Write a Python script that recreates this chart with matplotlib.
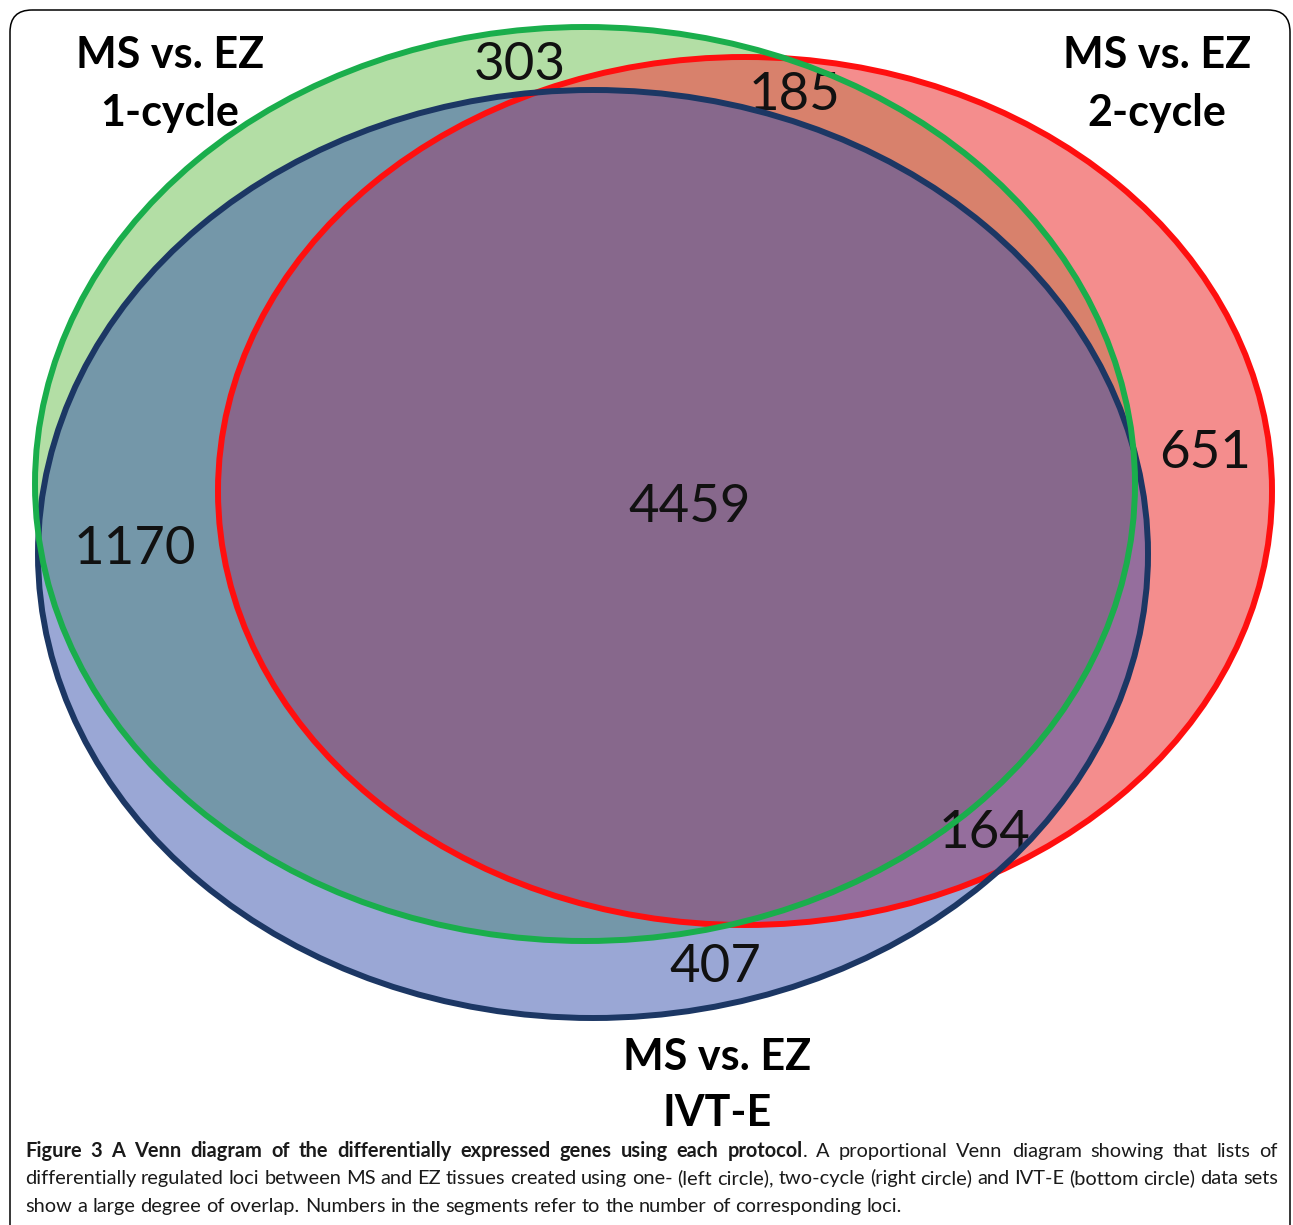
import matplotlib
matplotlib.use('Agg')
import matplotlib.pyplot as plt
from matplotlib.patches import Ellipse, FancyBboxPatch

# set labels and region counts
set_names = ['MS vs. EZ\n1-cycle', 'MS vs. EZ\n2-cycle', 'MS vs. EZ\nIVT-E']
region_names = ['1-cycle only', '1+2 only', '2-cycle only', 'all three',
                'IVT-E + 1-cycle', 'IVT-E + 2-cycle', 'IVT-E only']
region_counts = [303, 185, 651, 4459, 1170, 164, 407]

# layout (figure pixels, y down)
W, H = 1293, 1225
ellipses = {  # centre x, centre y, width, height
    'green': (585, 484, 1100, 914),
    'red': (745, 491, 1054, 868),
    'navy': (593, 554, 1110, 928),
}
fills = {'green': ('#b3dea5', 1.0), 'red': ('#ee4b4b', 0.63), 'navy': ('#3751ad', 0.5)}
edges = {'red': '#ff0f0f', 'navy': '#1c3764', 'green': '#1aae4c'}
set_label_pos = [(170, 55, 113), (1157, 55, 113), (717, 1057, 1113)]
count_pos = [(520, 65), (795, 95), (1205, 453), (690, 507),
             (135, 549), (985, 833), (715, 968)]

caption = [
    [[('Figure', 'bold')], [('3', 'bold')], [('A', 'bold')], [('Venn', 'bold')],
     [('diagram', 'bold')], [('of', 'bold')], [('the', 'bold')],
     [('differentially', 'bold')], [('expressed', 'bold')], [('genes', 'bold')],
     [('using', 'bold')], [('each', 'bold')], [('protocol', 'bold'), ('.', 'normal')],
     [('A', 'normal')], [('proportional', 'normal')], [('Venn', 'normal')],
     [('diagram', 'normal')], [('showing', 'normal')], [('that', 'normal')],
     [('lists', 'normal')], [('of', 'normal')]],
    [[(w, 'normal')] for w in ('differentially regulated loci between MS and EZ '
                               'tissues created using one- (left circle), two-cycle '
                               '(right circle) and IVT-E (bottom circle) data sets').split()],
    [[(w, 'normal')] for w in ('show a large degree of overlap. Numbers in the '
                               'segments refer to the number of corresponding loci.').split()],
]

fig = plt.figure(figsize=(W / 100, H / 100), dpi=100)
ax = fig.add_axes([0, 0, 1, 1])
ax.set_xlim(0, W)
ax.set_ylim(H, 0)
ax.axis('off')

frame = FancyBboxPatch((10, 10), 1280, 1400, boxstyle='round,pad=0,rounding_size=22',
                       fc='none', ec='black', lw=1.1, zorder=1)
ax.add_patch(frame)

for key in ['green', 'red', 'navy']:
    cx, cy, w, h = ellipses[key]
    col, a = fills[key]
    ax.add_patch(Ellipse((cx, cy), w, h, fc=col, alpha=a, ec='none', zorder=2))

for key in ['red', 'navy', 'green']:
    cx, cy, w, h = ellipses[key]
    ax.add_patch(Ellipse((cx, cy), w, h, fc='none', ec=edges[key], lw=4.3, zorder=4))

for (x, y), n in zip(count_pos, region_counts):
    ax.text(x, y, str(n), fontsize=38, family='Lato', ha='center', va='center',
            color='#111111', zorder=3)

for (x, y1, y2), name in zip(set_label_pos, set_names):
    top, bottom = name.split('\n')
    ax.text(x, y1, top, fontsize=31, family='Lato', weight='bold', ha='center',
            va='center', zorder=5)
    ax.text(x, y2, bottom, fontsize=31, family='Lato', weight='bold', ha='center',
            va='center', zorder=5)

# caption, justified like the journal layout
renderer = fig.canvas.get_renderer()


def measure(s, size, weight):
    t = ax.text(0, 0, s, fontsize=size, family='Lato', weight=weight)
    wd = t.get_window_extent(renderer).width
    t.remove()
    return wd


def word_width(word, size):
    return sum(measure(s, size, wt) for s, wt in word)


x_left, x_right = 25, 1278
line3_target = 880
size = 10
w3 = sum(word_width(wd, size) for wd in caption[2]) + \
    measure('a b', size, 'normal') - measure('ab', size, 'normal')
w3 += (len(caption[2]) - 2) * (measure('a b', size, 'normal') - measure('ab', size, 'normal'))
size = size * line3_target / w3
space = measure('a b', size, 'normal') - measure('ab', size, 'normal')

baselines = [1157, 1184, 1212]
for i, (line, yb) in enumerate(zip(caption, baselines)):
    widths = [word_width(wd, size) for wd in line]
    if i < 2:
        gap = (x_right - x_left - sum(widths)) / (len(line) - 1)
    else:
        gap = space
    x = x_left
    for wd, ww in zip(line, widths):
        xx = x
        for s, wt in wd:
            ax.text(xx, yb, s, fontsize=size, family='Lato', weight=wt,
                    ha='left', va='baseline', color='#1a1a1a', zorder=5)
            xx += measure(s, size, wt)
        x += ww + gap

fig.savefig('out.png', dpi=100)
